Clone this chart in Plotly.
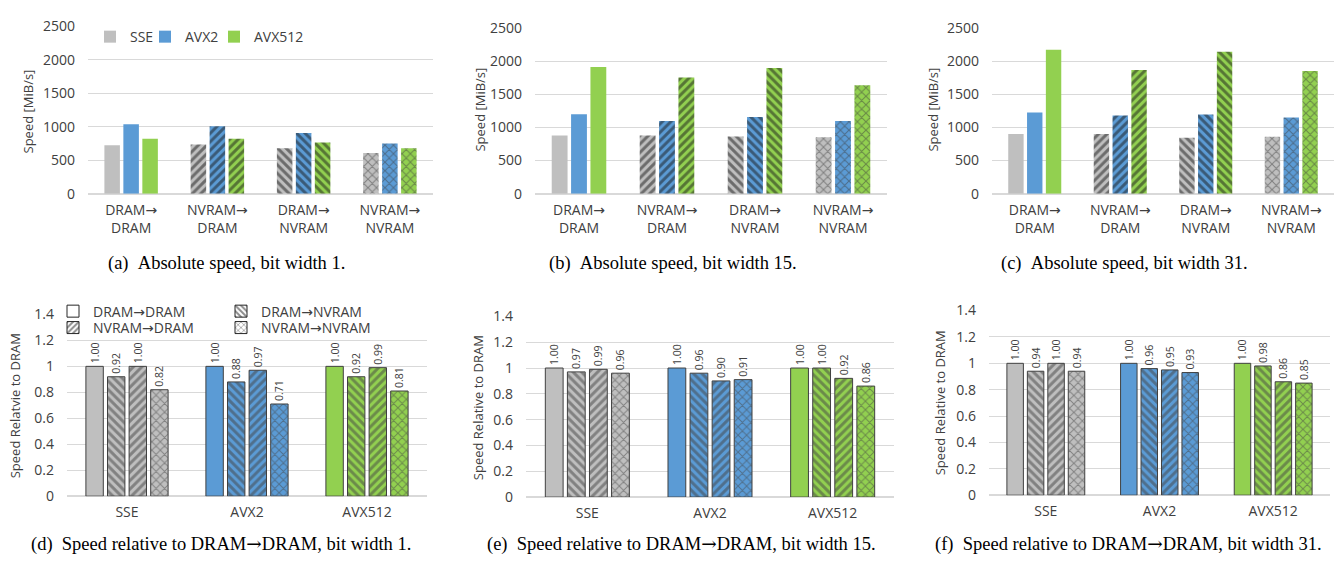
import plotly.graph_objects as go

W, H = 1343, 567

ARW = "<span style=\"font-family:'DejaVu Sans'\">→</span>"
ARW_SERIF = "<span style=\"font-family:'DejaVu Serif'\">→</span>"

# ---------------- data ----------------
transfer_cats = [f"DRAM{ARW}<br>DRAM", f"NVRAM{ARW}<br>DRAM",
                 f"DRAM{ARW}<br>NVRAM", f"NVRAM{ARW}<br>NVRAM"]
procs = ["SSE", "AVX2", "AVX512"]

# absolute speed [MiB/s], order: DRAM→DRAM, NVRAM→DRAM, DRAM→NVRAM, NVRAM→NVRAM
sse_bw1 = [722, 736, 679, 607]
avx2_bw1 = [1037, 1009, 908, 750]
avx512_bw1 = [822, 822, 765, 679]

sse_bw15 = [880, 880, 866, 851]
avx2_bw15 = [1201, 1099, 1158, 1099]
avx512_bw15 = [1916, 1756, 1902, 1639]

sse_bw31 = [903, 903, 845, 859]
avx2_bw31 = [1226, 1182, 1196, 1152]
avx512_bw31 = [2178, 1870, 2148, 1855]

# relative speed, values per processor (SSE, AVX2, AVX512)
rel_names = [f"DRAM{ARW}DRAM", f"DRAM{ARW}NVRAM", f"NVRAM{ARW}DRAM", f"NVRAM{ARW}NVRAM"]
rel_bw1_dd = [1.00, 1.00, 1.00]
rel_bw1_dn = [0.92, 0.88, 0.92]
rel_bw1_nd = [1.00, 0.97, 0.99]
rel_bw1_nn = [0.82, 0.71, 0.81]

rel_bw15_dd = [1.00, 1.00, 1.00]
rel_bw15_dn = [0.97, 0.96, 1.00]
rel_bw15_nd = [0.99, 0.90, 0.92]
rel_bw15_nn = [0.96, 0.91, 0.86]

rel_bw31_dd = [1.00, 1.00, 1.00]
rel_bw31_dn = [0.94, 0.96, 0.98]
rel_bw31_nd = [1.00, 0.95, 0.86]
rel_bw31_nn = [0.94, 0.93, 0.85]

captions = [
    "(a)\u00a0\u00a0Absolute speed, bit width 1.",
    "(b)\u00a0\u00a0Absolute speed, bit width 15.",
    "(c)\u00a0\u00a0Absolute speed, bit width 31.",
    f"(d)\u00a0\u00a0Speed relative to DRAM{ARW_SERIF}DRAM, bit width 1.",
    f"(e)\u00a0\u00a0Speed relative to DRAM{ARW_SERIF}DRAM, bit width 15.",
    f"(f)\u00a0\u00a0Speed relative to DRAM{ARW_SERIF}DRAM, bit width 31.",
]
ytitles = ["Speed [MiB/s]", "Speed [MiB/s]", "Speed [MiB/s]",
           "Speed Relatvie to DRAM", "Speed Relative to DRAM", "Speed Relative to DRAM"]

# ---------------- styles ----------------
colors = ["#bfbfbf", "#5b9bd5", "#92d050"]
top_shapes = ["", "/", "\\", "x"]
top_fg = ["#1a1a1a", "#1a1a1a", "#1a1a1a", "#3c3c3c"]
top_sol = [0.5, 0.5, 0.5, 0.3]
bottom_shapes = ["", "\\", "/", "x"]
bottom_fg = ["#1a1a1a", "#1a1a1a", "#1a1a1a", "#3c3c3c"]
bottom_sol = [0.5, 0.5, 0.5, 0.3]
FONT = "Open Sans"
TXT = "#404040"
GRID = "#d9d9d9"


def fx(x):
    return x / W


def fy(y):
    return 1 - y / H


top_panels = [(88, 433, 17, 190), (535, 887, 19, 190), (992, 1334, 19, 190)]
bot_panels = [(67, 427, 315, 503), (526, 894, 317, 504), (989, 1330, 311, 502)]

fig = go.Figure()
layout = dict(
    width=W, height=H, margin=dict(l=0, r=0, t=0, b=0),
    paper_bgcolor="white", plot_bgcolor="white",
    font=dict(family=FONT, size=14, color=TXT),
    barmode="overlay", showlegend=True,
)

top_data = [
    [sse_bw1, avx2_bw1, avx512_bw1],
    [sse_bw15, avx2_bw15, avx512_bw15],
    [sse_bw31, avx2_bw31, avx512_bw31],
]
bot_data = [
    [rel_bw1_dd, rel_bw1_dn, rel_bw1_nd, rel_bw1_nn],
    [rel_bw15_dd, rel_bw15_dn, rel_bw15_nd, rel_bw15_nn],
    [rel_bw31_dd, rel_bw31_dn, rel_bw31_nd, rel_bw31_nn],
]

top_w = 0.18
top_centers = [-0.22, 0.0, 0.22]
bot_w = 0.145
bot_centers = [-0.27, -0.09, 0.09, 0.27]

for i, (panel, series) in enumerate(zip(top_panels, top_data)):
    n = i + 1
    x0, x1, yt, yb = panel
    for j, vals in enumerate(series):
        fig.add_trace(go.Bar(
            x=transfer_cats, y=vals, xaxis=f"x{n}", yaxis=f"y{n}",
            width=top_w, offset=top_centers[j] - top_w / 2,
            showlegend=False, name=procs[j],
            marker=dict(color=colors[j], line=dict(width=0),
                        pattern=dict(shape=top_shapes, fillmode="overlay",
                                     fgcolor=top_fg, size=6, solidity=top_sol)),
        ))
    layout[f"xaxis{n}"] = dict(domain=[fx(x0), fx(x1)], anchor=f"y{n}", type="category",
                               showgrid=False, showline=False, ticks="",
                               ticklabelstandoff=6, tickfont=dict(size=14, color=TXT))
    layout[f"yaxis{n}"] = dict(domain=[fy(yb), fy(yt)], anchor=f"x{n}", range=[0, 2500],
                               dtick=500, tickformat="d", showgrid=True, gridcolor=GRID,
                               zeroline=True, zerolinecolor=GRID, showline=False,
                               ticks="", ticklabelstandoff=12, tickfont=dict(size=14, color=TXT))

for i, (panel, series) in enumerate(zip(bot_panels, bot_data)):
    n = i + 4
    x0, x1, yt, yb = panel
    for k, vals in enumerate(series):
        fig.add_trace(go.Bar(
            x=procs, y=vals, xaxis=f"x{n}", yaxis=f"y{n}",
            width=bot_w, offset=bot_centers[k] - bot_w / 2,
            showlegend=False, name=rel_names[k],
            text=[f"{v:.2f}" for v in vals], textposition="outside", textangle=-90,
            textfont=dict(size=10.5, color=TXT), cliponaxis=False, constraintext="none",
            marker=dict(color=colors, line=dict(width=1, color="#404040"),
                        pattern=dict(shape=bottom_shapes[k], fillmode="overlay",
                                     fgcolor=bottom_fg[k], size=6, solidity=bottom_sol[k])),
        ))
    layout[f"xaxis{n}"] = dict(domain=[fx(x0), fx(x1)], anchor=f"y{n}", type="category",
                               showgrid=False, showline=False, ticks="",
                               ticklabelstandoff=6, tickfont=dict(size=14, color=TXT))
    layout[f"yaxis{n}"] = dict(domain=[fy(yb), fy(yt)], anchor=f"x{n}", range=[0, 1.4],
                               dtick=0.2, showgrid=True, gridcolor=GRID,
                               zeroline=True, zerolinecolor=GRID, showline=False,
                               ticks="", ticklabelstandoff=12, tickfont=dict(size=14, color=TXT))

# hidden axes for legend-only entries
layout["xaxis7"] = dict(domain=[0, 0.001], anchor="y7", visible=False)
layout["yaxis7"] = dict(domain=[0, 0.001], anchor="x7", visible=False)

legend_items = []
# top legend (a)
top_leg_pos = [(90, 28), (145, 28), (214, 28)]
for j, p in enumerate(procs):
    legend_items.append((p, dict(color=colors[j], line=dict(width=0)), top_leg_pos[j]))
# bottom legend (d)
bot_leg_pos = [(53, 312), (221, 312), (53, 329), (221, 329)]
for k, nm in enumerate(rel_names):
    legend_items.append((nm, dict(color="white", line=dict(width=1, color="#262626"),
                                  pattern=dict(shape=bottom_shapes[k], fillmode="overlay",
                                               fgcolor="#1a1a1a", size=5,
                                               solidity=bottom_sol[k])),
                         bot_leg_pos[k]))

for idx, (nm, mk, (lx, ly)) in enumerate(legend_items):
    lname = "legend" if idx == 0 else f"legend{idx + 1}"
    fig.add_trace(go.Bar(x=[None], y=[None], xaxis="x7", yaxis="y7", name=nm,
                         marker=mk, showlegend=True, legend=lname))
    layout[lname] = dict(x=fx(lx), y=fy(ly), xanchor="left", yanchor="middle",
                         bgcolor="rgba(0,0,0,0)", borderwidth=0,
                         font=dict(size=14, color=TXT, family=FONT))

annotations = []
ytitle_pos = [(28, 105), (480, 103), (933, 103), (15, 410), (478, 412), (940, 407)]
for t, (ax, ay) in zip(ytitles, ytitle_pos):
    annotations.append(dict(text=t, x=fx(ax), y=fy(ay), xref="paper", yref="paper",
                            showarrow=False, textangle=-90, xanchor="center", yanchor="middle",
                            font=dict(size=13, color=TXT, family=FONT)))
cap_pos = [(226, 262), (673, 262), (1124, 262), (221, 553), (681, 553), (1128, 553)]
for t, (ax, ay) in zip(captions, cap_pos):
    annotations.append(dict(text=t, x=fx(ax), y=fy(ay), xref="paper", yref="paper",
                            showarrow=False, xanchor="center", yanchor="middle",
                            font=dict(size=18.5, color="black", family="Liberation Serif")))
layout["annotations"] = annotations

fig.update_layout(**layout)
fig.write_html("out.html")
